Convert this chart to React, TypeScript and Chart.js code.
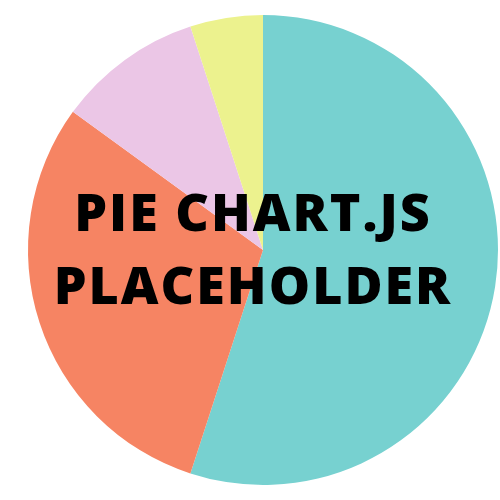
import React, { useEffect, useRef } from "react";
import { Chart, registerables } from "chart.js";

Chart.register(...registerables);

const labels = ["A", "B", "C", "D"];
const values = [55, 30, 10, 5];
const colors = ["#77D1D0", "#F68463", "#EBC6E6", "#ECF28E"];
const titleLines = ["PIE CHART.JS", "PLACEHOLDER"];

export default function App() {
  const ref = useRef<HTMLCanvasElement | null>(null);
  useEffect(() => {
    if (!ref.current) return;
    const chart = new Chart(ref.current, {
      type: "pie",
      data: {
        labels,
        datasets: [
          {
            data: values,
            backgroundColor: colors,
            borderWidth: 0,
          },
        ],
      },
      options: {
        animation: false,
        responsive: false,
        layout: { padding: { left: 28, right: 2, top: 15, bottom: 15 } },
        plugins: { legend: { display: false }, tooltip: { enabled: false } },
      },
    });
    return () => chart.destroy();
  }, []);
  return (
    <div style={{ position: "fixed", left: 0, top: 0, width: 500, height: 500, background: "#fff" }}>
      <canvas ref={ref} width={500} height={500} style={{ width: 500, height: 500, display: "block" }} />
      <div
        style={{
          position: "absolute",
          left: 0,
          top: -3,
          width: 500,
          height: 500,
          display: "flex",
          flexDirection: "column",
          alignItems: "center",
          justifyContent: "center",
          fontFamily: "'Open Sans', sans-serif",
          fontWeight: 800,
          fontSize: 52,
          lineHeight: "73px",
          letterSpacing: "2px",
          color: "#000",
          paddingLeft: 6,
          boxSizing: "border-box",
        }}
      >
        {titleLines.map((t) => (
          <div key={t}>{t}</div>
        ))}
      </div>
    </div>
  );
}
